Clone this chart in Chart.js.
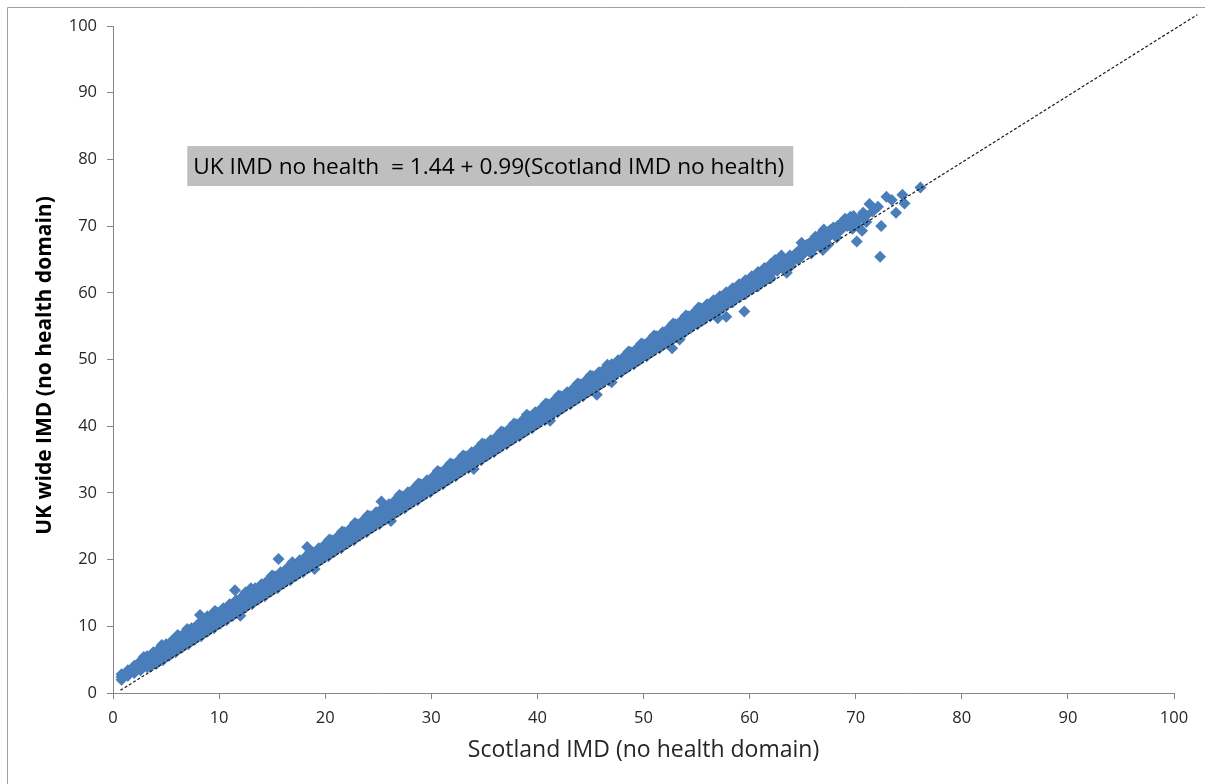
<!DOCTYPE html>
<html>
<head>
<meta charset="utf-8">
<script src="https://cdn.jsdelivr.net/npm/chart.js@4.4.1/dist/chart.umd.min.js"></script>
<style>
  html, body { margin: 0; padding: 0; background: #ffffff; }
  canvas { display: block; }
</style>
</head>
<body>
<canvas id="imdChart" width="1205" height="784"></canvas>
<script>
// Axis labels and range
const xAxisTitle = 'Scotland IMD (no health domain)';
const yAxisTitle = 'UK wide IMD (no health domain)';
const axisMin = 0;
const axisMax = 100;
const axisStep = 10;

// Regression note shown inside the plot
const equationText = 'UK IMD no health  = 1.44 + 0.99(Scotland IMD no health)';
const equationAnchor = [7.0, 79.0]; // [Scotland IMD, UK IMD] at the box's left-middle

// Dashed reference diagonal
const diagonalX = [0.7, 102.2];
const diagonalY = [0.4, 101.7];

// Data zones: [Scotland IMD, UK-wide IMD]
const zonesLow = [
  [0.8,2.0],[0.8,2.4],[0.8,2.8],[1.4,2.6],[1.4,3.0],[1.4,3.4],[2.0,3.0],[2.0,3.6],[2.0,4.1],
  [2.6,3.4],[2.6,4.1],[2.6,4.8],[3.2,3.9],[3.2,4.8],[3.2,5.5],[3.8,4.6],[3.8,5.3],[3.8,6.1],
  [4.4,5.1],[4.4,6.0],[4.4,6.7],[5.0,5.8],[5.0,6.5],[5.0,7.3],[5.6,6.3],[5.6,7.2],[5.6,7.9],
  [6.2,7.0],[6.2,7.7],[6.2,8.5],[6.8,7.5],[6.8,8.4],[6.8,9.1],[7.4,8.2],[7.4,8.9],[7.4,9.7],
  [8.0,8.7],[8.0,9.6],[8.0,10.3],[8.6,9.4],[8.6,10.1],[8.6,10.9],[9.2,9.9],[9.2,10.8],[9.2,11.5],
  [9.8,10.6],[9.8,11.3],[9.8,12.1],[10.4,11.1],[10.4,12.0],[10.4,12.7],[11.0,11.8],[11.0,12.5],[11.0,13.3],
  [11.6,12.3],[11.6,13.2],[11.6,13.9],[12.2,13.0],[12.2,13.7],[12.2,14.5],[12.8,13.5],[12.8,14.4],[12.8,15.1],
  [13.4,14.2],[13.4,14.9],[13.4,15.7],[14.0,14.7],[14.0,15.6],[14.0,16.3],[14.6,15.4],[14.6,16.1],[14.6,16.9],
  [15.2,15.9],[15.2,16.8],[15.2,17.5],[15.8,16.6],[15.8,17.3],[15.8,18.1],[16.4,17.1],[16.4,18.0],[16.4,18.7],
  [17.0,17.8],[17.0,18.5],[17.0,19.3],[17.6,18.3],[17.6,19.2],[17.6,19.9],[18.2,19.0],[18.2,19.7],[18.2,20.5],
  [18.8,19.5],[18.8,20.4],[18.8,21.1],[19.4,20.2],[19.4,20.9],[19.4,21.7],[20.0,20.7],[20.0,21.6],[20.0,22.3]
];

const zonesMid = [
  [20.6,21.4],[20.6,22.1],[20.6,22.9],[21.2,21.9],[21.2,22.8],[21.2,23.5],[21.8,22.6],[21.8,23.3],[21.8,24.1],
  [22.4,23.1],[22.4,24.0],[22.4,24.7],[23.0,23.8],[23.0,24.5],[23.0,25.3],[23.6,24.3],[23.6,25.2],[23.6,25.9],
  [24.2,25.0],[24.2,25.7],[24.2,26.5],[24.8,25.5],[24.8,26.4],[24.8,27.1],[25.4,26.2],[25.4,26.9],[25.4,27.7],
  [26.0,26.7],[26.0,27.6],[26.0,28.3],[26.6,27.4],[26.6,28.1],[26.6,28.9],[27.2,27.9],[27.2,28.8],[27.2,29.5],
  [27.8,28.6],[27.8,29.3],[27.8,30.1],[28.4,29.1],[28.4,30.0],[28.4,30.7],[29.0,29.8],[29.0,30.5],[29.0,31.3],
  [29.6,30.3],[29.6,31.2],[29.6,31.9],[30.2,31.0],[30.2,31.7],[30.2,32.5],[30.8,31.5],[30.8,32.4],[30.8,33.1],
  [31.4,32.2],[31.4,32.9],[31.4,33.7],[32.0,32.7],[32.0,33.6],[32.0,34.3],[32.6,33.4],[32.6,34.1],[32.6,34.9],
  [33.2,33.9],[33.2,34.8],[33.2,35.5],[33.8,34.6],[33.8,35.3],[33.8,36.1],[34.4,35.1],[34.4,36.0],[34.4,36.7],
  [35.0,35.8],[35.0,36.5],[35.0,37.3],[35.6,36.3],[35.6,37.2],[35.6,37.9],[36.2,37.0],[36.2,37.7],[36.2,38.5],
  [36.8,37.5],[36.8,38.4],[36.8,39.1],[37.4,38.2],[37.4,38.9],[37.4,39.7],[38.0,38.7],[38.0,39.6],[38.0,40.3],
  [38.6,39.4],[38.6,40.1],[38.6,40.9],[39.2,39.9],[39.2,40.8],[39.2,41.5],[39.8,40.6],[39.8,41.3],[39.8,42.1],
  [40.4,41.1],[40.4,42.0],[40.4,42.7],[41.0,41.8],[41.0,42.5],[41.0,43.3],[41.6,42.3],[41.6,43.2],[41.6,43.9],
  [42.2,43.0],[42.2,43.7],[42.2,44.5],[42.8,43.5],[42.8,44.4],[42.8,45.1],[43.4,44.2],[43.4,44.9],[43.4,45.7],
  [44.0,44.7],[44.0,45.6],[44.0,46.3],[44.6,45.4],[44.6,46.1],[44.6,46.9]
];

const zonesHigh = [
  [45.2,46.0],[45.2,46.7],[45.2,47.5],[45.8,46.5],[45.8,47.4],[45.8,48.1],[46.4,47.2],[46.4,47.9],[46.4,48.7],
  [47.0,47.7],[47.0,48.6],[47.0,49.3],[47.6,48.4],[47.6,49.1],[47.6,49.9],[48.2,48.9],[48.2,49.8],[48.2,50.5],
  [48.8,49.6],[48.8,50.3],[48.8,51.1],[49.4,50.1],[49.4,51.0],[49.4,51.7],[50.0,50.8],[50.0,51.5],[50.0,52.3],
  [50.6,51.3],[50.6,52.2],[50.6,52.9],[51.2,52.0],[51.2,52.7],[51.2,53.5],[51.8,52.5],[51.8,53.4],[51.8,54.1],
  [52.4,53.2],[52.4,53.9],[52.4,54.7],[53.0,53.7],[53.0,54.6],[53.0,55.3],[53.6,54.4],[53.6,55.1],[53.6,55.9],
  [54.2,54.9],[54.2,55.8],[54.2,56.5],[54.8,55.6],[54.8,56.3],[54.8,57.1],[55.4,56.1],[55.4,57.0],[55.4,57.7],
  [56.0,56.8],[56.0,57.5],[56.0,58.3]
];

// Zones along the lower edge of the main band
const zonesLowerEdge = [
  [3.5,3.9],[4.1,4.4],[4.7,4.9],[5.3,5.6],[5.9,6.1],[6.5,6.8],[7.1,7.3],[7.7,8.0],[8.3,8.5],[8.9,9.2],
  [9.5,9.7],[10.1,10.4],[10.7,10.9],[11.3,11.6],[11.9,12.1],[12.5,12.8],[13.1,13.3],[13.7,14.0],[14.3,14.5],
  [14.9,15.2],[15.5,15.7],[16.1,16.4],[16.7,16.9],[17.3,17.6],[17.9,18.1],[18.5,18.8],[19.1,19.3],[19.7,20.0],
  [20.3,20.5],[20.9,21.2],[21.5,21.7],[22.1,22.4],[22.7,22.9],[23.3,23.6],[23.9,24.1],[24.5,24.8],[25.1,25.3],
  [25.7,26.0],[26.3,26.5],[26.9,27.2],[27.5,27.7],[28.1,28.4],[28.7,28.9],[29.3,29.6],[29.9,30.1],[30.5,30.8],
  [31.1,31.3],[31.7,32.0],[32.3,32.5],[32.9,33.2],[33.5,33.7],[34.1,34.4],[34.7,34.9],[35.3,35.6],[35.9,36.1],
  [36.5,36.8],[37.1,37.3],[37.7,38.0],[38.3,38.5],[38.9,39.2],[39.5,39.7],[40.1,40.4],[40.7,40.9],[41.3,41.6],
  [41.9,42.1],[42.5,42.8],[43.1,43.3],[43.7,44.0],[44.3,44.5],[44.9,45.2],[45.5,45.7],[46.1,46.4],[46.7,46.9],
  [47.3,47.6],[47.9,48.1],[48.5,48.8],[49.1,49.3],[49.7,50.0],[50.3,50.5],[50.9,51.2],[51.5,51.7],[52.1,52.4],
  [52.7,52.9],[53.3,53.6],[53.9,54.1],[54.5,54.8],[55.1,55.3],[55.7,56.0],[56.3,56.5]
];

// Ragged zones just above and below the band
const zonesFringe = [
  [2.9,5.4],[4.6,7.2],[6.1,8.7],[7.0,9.6],[8.9,11.5],[9.6,12.3],[12.5,15.1],[13.0,15.7],[15.0,17.6],
  [16.9,19.6],[18.6,21.2],[20.4,23.0],[21.6,24.2],[22.8,25.5],[24.0,26.6],[27.0,29.7],[28.8,31.4],
  [30.6,33.3],[31.8,34.4],[33.0,35.6],[34.8,37.4],[36.6,39.2],[37.8,40.4],[39.0,41.7],[40.8,43.4],
  [42.0,44.6],[43.8,46.4],[45.0,47.6],[46.6,49.2],[48.6,51.2],[49.8,52.4],[51.0,53.6],[52.8,55.4],
  [54.0,56.6],[55.2,57.8],
  [12.0,11.6],[19.0,18.6],[26.2,25.8],[34.0,33.6],[41.2,40.8],[47.0,46.6],[53.4,53.0]
];

const zonesTop = [
  [56.6,56.9],[56.6,57.4],[56.6,58.1],[56.6,58.9],[57.2,57.4],[57.2,58.0],[57.2,58.8],[57.2,59.5],
  [57.8,58.1],[57.8,58.6],[57.8,59.3],[57.8,60.1],[58.4,58.6],[58.4,59.2],[58.4,60.0],[58.4,60.7],
  [59.0,59.3],[59.0,59.8],[59.0,60.5],[59.0,61.3],[59.6,59.8],[59.6,60.4],[59.6,61.2],[59.6,61.9],
  [60.2,60.5],[60.2,61.0],[60.2,61.7],[60.2,62.5],[60.8,61.0],[60.8,61.6],[60.8,62.4],[60.8,63.1],
  [61.4,61.7],[61.4,62.2],[61.4,62.9],[61.4,63.7],[62.0,62.2],[62.0,62.8],[62.0,63.6],[62.0,64.3],
  [62.4,64.9],[62.6,63.3],[62.6,64.2],[62.9,64.5],[63.0,65.6],[63.2,63.7],[63.2,64.9],[63.6,65.0],
  [63.8,64.3],[63.8,65.6],[63.9,64.0],[64.1,65.4],[64.4,65.1],[64.4,66.0],[64.6,65.0],[64.7,66.2],
  [64.9,67.5],[65.0,65.7],[65.0,66.6],[65.0,66.9],[65.4,67.2],[65.6,66.5],[65.6,67.4],[65.8,65.9],
  [66.0,67.9],[66.2,66.9],[66.2,67.9],[66.2,68.4],[66.6,68.7],[66.8,67.6],[66.8,68.6],[67.0,69.5],
  [67.2,68.1],[67.4,67.2],[67.4,68.3],[67.4,69.1],[67.6,69.4],[67.9,69.8],[68.0,68.8],[68.2,68.3],
  [68.3,70.0],[68.6,69.4],[68.6,70.4],[68.8,70.7],[69.0,71.1],[69.2,70.0],[69.3,70.2],[69.5,71.4],
  [69.7,69.6],[69.8,70.5],[69.8,71.5],[70.2,70.0],[70.4,71.2],[70.6,69.3],[70.7,72.0],[71.0,70.6],
  [71.0,71.6],[71.3,73.3],[71.6,72.2],[72.1,72.9],[72.4,70.0],[72.9,74.4],[73.4,73.9],[73.8,72.0],
  [74.4,74.7],[74.6,73.4],[76.1,75.8]
];

// Zones lying away from the main band
const zonesOutlying = [
  [8.2,11.7],[11.5,15.4],[15.6,20.1],[18.3,21.9],[25.3,28.7],[45.6,44.7],[52.7,51.7],
  [57.0,56.2],[57.8,56.4],[59.5,57.2],[63.5,63.0],[66.9,66.4],[70.1,67.7],[72.3,65.4]
];

const allZones = [...zonesLow, ...zonesMid, ...zonesHigh, ...zonesLowerEdge, ...zonesFringe,
  ...zonesTop, ...zonesOutlying].map(([x, y]) => ({ x, y }));
const diagonalPoints = diagonalX.map((x, i) => ({ x, y: diagonalY[i] }));

const FONT = '"Open Sans", Lato, sans-serif';
const TEXT_COLOR = '#262626';
const AXIS_COLOR = '#868686';

// Outer frame, rotated y-axis title and the regression note box
const chartDecor = {
  id: 'chartDecor',
  beforeDraw(chart) {
    const ctx = chart.ctx;
    ctx.save();
    ctx.strokeStyle = '#a0a0a0';
    ctx.lineWidth = 1;
    ctx.beginPath();
    ctx.moveTo(7.5, chart.height);
    ctx.lineTo(7.5, 7.5);
    ctx.lineTo(chart.width, 7.5);
    ctx.stroke();
    ctx.restore();
  },
  afterDraw(chart) {
    const { ctx, chartArea } = chart;
    ctx.save();
    ctx.translate(45, (chartArea.top + chartArea.bottom) / 2 + 6);
    ctx.rotate(-Math.PI / 2);
    ctx.font = 'bold 21px ' + FONT;
    ctx.fillStyle = '#000000';
    ctx.textAlign = 'center';
    ctx.textBaseline = 'middle';
    ctx.fillText(yAxisTitle, 0, 0);
    ctx.restore();
  },
  afterDatasetsDraw(chart) {
    const { ctx, scales } = chart;
    const left = scales.x.getPixelForValue(equationAnchor[0]);
    const cy = scales.y.getPixelForValue(equationAnchor[1]);
    ctx.save();
    ctx.font = '22.7px ' + FONT;
    const w = ctx.measureText(equationText).width;
    ctx.fillStyle = '#bfbfbf';
    ctx.fillRect(left, cy - 20, w + 15, 40);
    ctx.fillStyle = '#000000';
    ctx.textBaseline = 'middle';
    ctx.textAlign = 'left';
    ctx.fillText(equationText, left + 6, cy + 1);
    ctx.restore();
  }
};

function axisOptions(isX) {
  return {
    type: 'linear',
    min: axisMin,
    max: axisMax,
    ticks: {
      stepSize: axisStep,
      padding: isX ? 9 : 10,
      color: TEXT_COLOR,
      font: { family: FONT, size: 16.5 }
    },
    grid: {
      drawOnChartArea: false,
      drawTicks: true,
      tickLength: 6,
      color: AXIS_COLOR,
      lineWidth: 1
    },
    border: { display: true, color: AXIS_COLOR, width: 1 },
    title: {
      display: isX,
      text: xAxisTitle,
      color: TEXT_COLOR,
      font: { family: FONT, size: 23 },
      padding: { top: 0, bottom: 20 }
    },
    afterFit(scale) {
      if (isX) scale.height = 91; else scale.width = 113;
    }
  };
}

new Chart(document.getElementById('imdChart'), {
  type: 'scatter',
  data: {
    datasets: [
      {
        label: 'Diagonal',
        data: diagonalPoints,
        showLine: true,
        borderColor: '#1a1a1a',
        borderWidth: 1.2,
        borderDash: [3, 2],
        pointRadius: 0,
        fill: false,
        clip: false
      },
      {
        label: 'Data zones',
        data: allZones,
        pointStyle: 'rectRot',
        pointRadius: 6,
        pointBackgroundColor: '#4a7ebb',
        pointBorderWidth: 0,
        borderWidth: 0
      }
    ]
  },
  options: {
    responsive: false,
    animation: false,
    events: [],
    layout: { padding: { left: 0, right: 31, top: 26, bottom: 0 } },
    plugins: {
      legend: { display: false },
      tooltip: { enabled: false }
    },
    scales: {
      x: axisOptions(true),
      y: axisOptions(false)
    }
  },
  plugins: [chartDecor]
});
</script>
</body>
</html>
